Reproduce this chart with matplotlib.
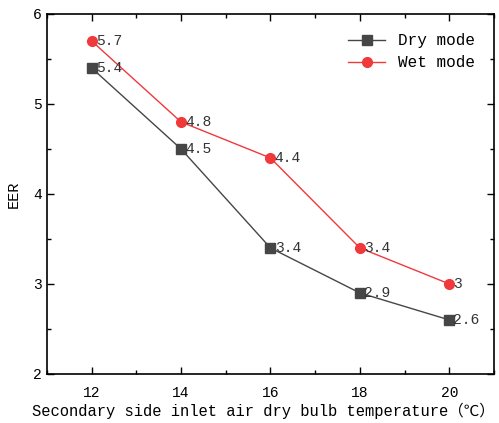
import matplotlib
matplotlib.use('Agg')
import matplotlib.pyplot as plt
from matplotlib.ticker import MultipleLocator

plt.rcParams['font.family'] = ['Liberation Mono', 'Noto Sans CJK SC', 'DejaVu Sans']

temps = [12, 14, 16, 18, 20]
eer_dry = [5.4, 4.5, 3.4, 2.9, 2.6]
eer_wet = [5.7, 4.8, 4.4, 3.4, 3.0]
dry_labels = ['5.4', '4.5', '3.4', '2.9', '2.6']
wet_labels = ['5.7', '4.8', '4.4', '3.4', '3']

dry_col = '#464646'
wet_col = '#f0393b'

fig = plt.figure(figsize=(4.99, 4.23), dpi=100)
ax = fig.add_axes([0.094, 0.116, 0.896, 0.851])

ax.plot(temps, eer_dry, color=dry_col, lw=1.0, marker='s', ms=6.5, label='Dry mode')
ax.plot(temps, eer_wet, color=wet_col, lw=1.0, marker='o', ms=7, label='Wet mode')

for x, y, s in zip(temps, eer_dry, dry_labels):
    ax.annotate(s, (x, y), xytext=(3, 0), textcoords='offset points',
                va='center', ha='left', fontsize=10.5, color='#333333')
for x, y, s in zip(temps, eer_wet, wet_labels):
    ax.annotate(s, (x, y), xytext=(3, 0), textcoords='offset points',
                va='center', ha='left', fontsize=10.5, color='#333333')

ax.set_xlim(11, 21)
ax.set_ylim(2, 6)
ax.xaxis.set_major_locator(MultipleLocator(2))
ax.xaxis.set_minor_locator(MultipleLocator(1))
ax.yaxis.set_major_locator(MultipleLocator(1))
ax.yaxis.set_minor_locator(MultipleLocator(0.5))
ax.tick_params(which='both', direction='in', top=True, right=True,
               labelsize=10.5, width=1)
ax.tick_params(axis='x', which='major', pad=9)
ax.tick_params(which='major', length=5)
ax.tick_params(which='minor', length=3)
for sp in ax.spines.values():
    sp.set_linewidth(1.2)

ax.set_xlabel('Secondary side inlet air dry bulb temperature（℃）', fontsize=11.2)
ax.xaxis.set_label_coords(0.485, -0.08)
ax.set_ylabel('EER', fontsize=11, labelpad=9)

ax.legend(loc='upper right', frameon=False, fontsize=11.5, handlelength=2.3,
          borderaxespad=0.8, labelspacing=0.45)

fig.savefig('out.png', dpi=100)
